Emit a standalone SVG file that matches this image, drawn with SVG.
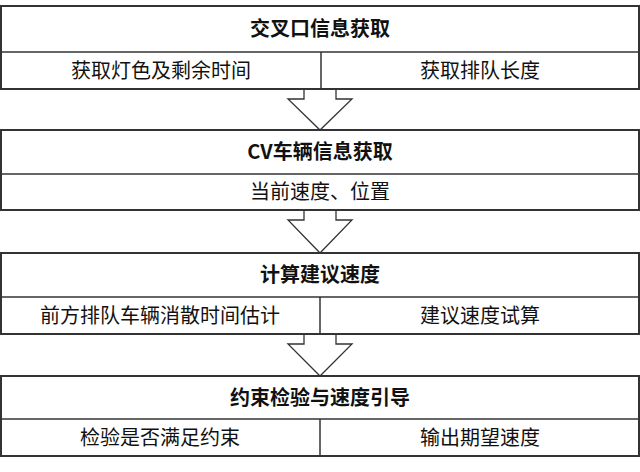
<svg xmlns="http://www.w3.org/2000/svg" width="640" height="472" viewBox="0 0 640 472">
<style>
.box{fill:#fff;stroke:#333;stroke-width:2}
.ln{stroke:#333;stroke-width:1.5;fill:none}
.arr{fill:#fff;stroke:#333;stroke-width:1.3;stroke-linejoin:miter}
text{font-family:"Noto Sans CJK SC","Microsoft YaHei",sans-serif;font-size:20px;fill:#111;text-anchor:middle}
.t{font-weight:bold}
</style>
<rect width="640" height="472" fill="#fff"/>
<g id="connectors">
<path class="arr" d="M304,89 V99 H288 L320,130 L352,99 H336 V89"/>
<path class="arr" d="M304,210 V220 H288 L320,253 L352,220 H336 V210"/>
<path class="arr" d="M304,334 V344 H288 L320,376 L352,344 H336 V334"/>
</g>
<g id="node1">
<rect class="box" x="1" y="6" width="638" height="83"/>
<line class="ln" x1="1" y1="52" x2="639" y2="52"/>
<line class="ln" x1="321" y1="52" x2="321" y2="89"/>
<text class="t" x="320" y="36">交叉口信息获取</text>
<text x="161" y="77.5">获取灯色及剩余时间</text>
<text x="480" y="77.5">获取排队长度</text>
</g>
<g id="node2">
<rect class="box" x="1" y="130" width="638" height="80"/>
<line class="ln" x1="1" y1="174" x2="639" y2="174"/>
<text class="t" x="320" y="159">CV车辆信息获取</text>
<text x="320" y="199">当前速度、位置</text>
</g>
<g id="node3">
<rect class="box" x="1" y="253" width="638" height="81"/>
<line class="ln" x1="1" y1="297" x2="639" y2="297"/>
<line class="ln" x1="320" y1="297" x2="320" y2="334"/>
<text class="t" x="320" y="282">计算建议速度</text>
<text x="160" y="322.5">前方排队车辆消散时间估计</text>
<text x="480" y="322.5">建议速度试算</text>
</g>
<g id="node4">
<rect class="box" x="1" y="376" width="638" height="80"/>
<line class="ln" x1="1" y1="419" x2="639" y2="419"/>
<line class="ln" x1="320" y1="419" x2="320" y2="456"/>
<text class="t" x="320" y="404.5">约束检验与速度引导</text>
<text x="160" y="444.5">检验是否满足约束</text>
<text x="480" y="444.5">输出期望速度</text>
</g>
</svg>
